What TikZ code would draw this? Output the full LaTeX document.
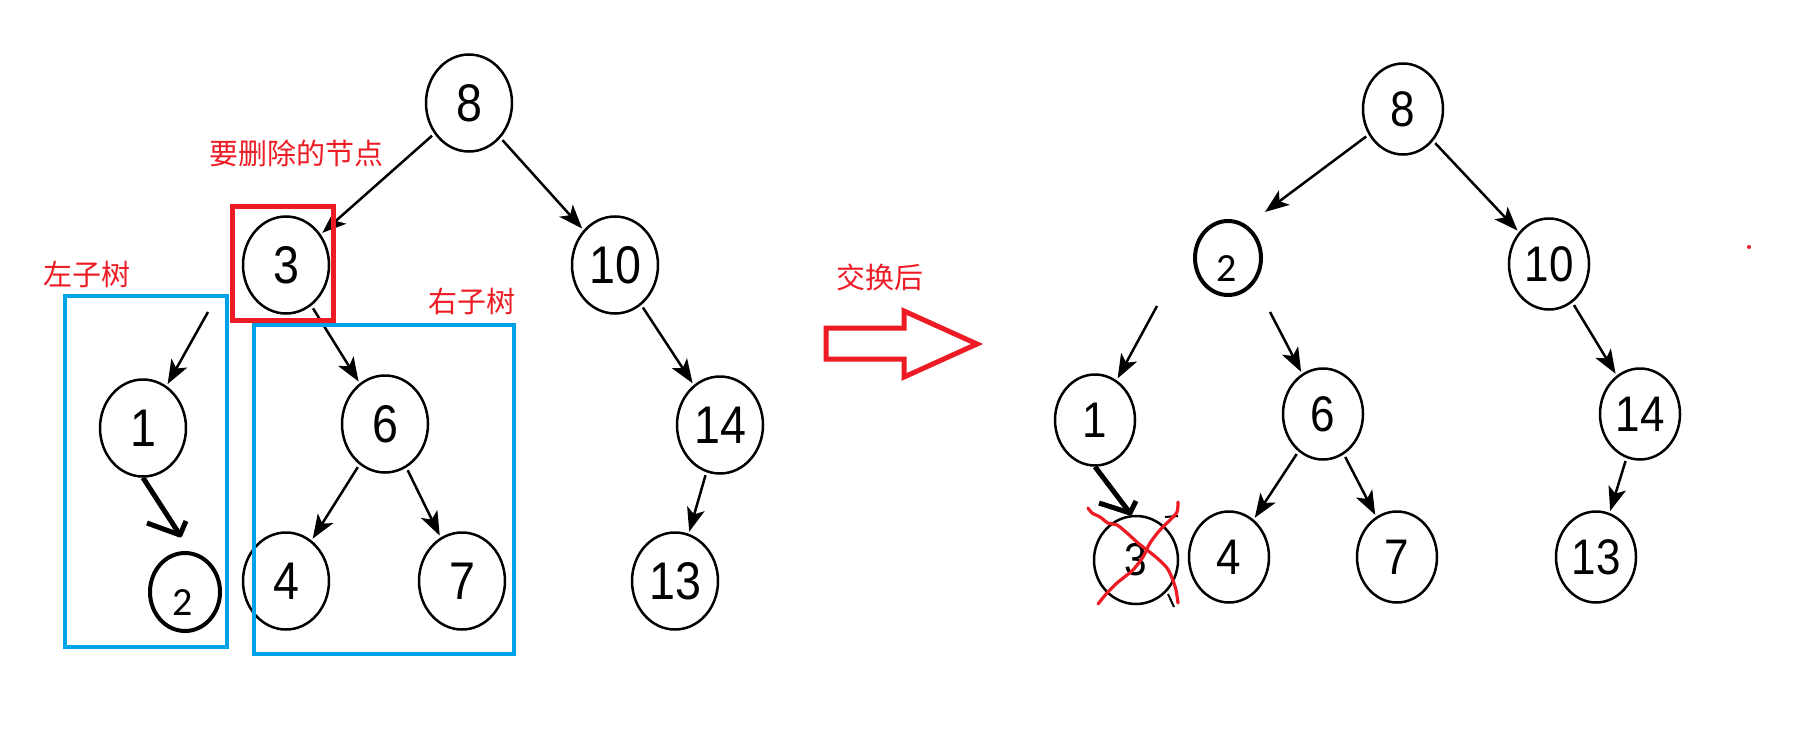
\documentclass[tikz,border=0pt]{standalone}
\usepackage{fontspec}
\usetikzlibrary{shapes.geometric,arrows.meta}
\newfontfamily\numfont[FakeStretch=0.88]{Liberation Sans}
\newfontfamily\smallfont{Carlito}
\newfontfamily\cjk{Noto Sans CJK SC}
\definecolor{pred}{HTML}{ED1C24}
\definecolor{pblue}{HTML}{00A2E8}
\begin{document}
\begin{tikzpicture}[x=1pt,y=-1pt,
 tn/.style={ellipse,draw,line width=2.5pt,inner sep=0pt,minimum width=86pt,minimum height=97pt,font=\numfont\fontsize{53}{53}\selectfont},
 tnr/.style={tn,minimum width=80pt,minimum height=91pt,font=\numfont\fontsize{50}{50}\selectfont},
 sn/.style={ellipse,draw,line width=4pt,inner sep=0pt},
 stxt/.style={inner sep=0pt,font=\smallfont\fontsize{40}{40}\selectfont},
 edge/.style={line width=2.5pt,-{Stealth[length=24pt,width=18pt,inset=6pt]},shorten <=3pt,shorten >=2pt},
 hand/.style={line width=5pt},
 lbl/.style={text=pred,font=\cjk\fontsize{29}{29}\selectfont,inner sep=0pt},
 bbox/.style={draw=pblue,line width=4.5pt},
 rbox/.style={draw=pred,line width=5pt},
 xmark/.style={draw=pred,line width=3.2pt,line cap=round,line join=round},
]
\useasboundingbox[fill=white] (0,0) rectangle (1793,741);

% ---------- left tree ----------
\node[tn] (L8) at (469,103) {8};
\node[tn] (L3) at (286,265) {3};
\node[tn] (L10) at (615,265) {10};
\node[tn] (L1) at (143,428) {1};
\node[tn] (L6) at (385,424) {6};
\node[tn] (L14) at (720,425) {14};
\node[tn] (L4) at (286,581) {4};
\node[tn] (L7) at (462,581) {7};
\node[tn] (L13) at (675,581) {13};
\node[sn,minimum width=70pt,minimum height=78pt] (Ls2) at (185,592) {};
\node[stxt] (Ls2t) at (183,603) {2};
\coordinate (Lsrc) at (208,312);
\coordinate (Ltip) at (180,535);

\draw[edge] (L8) -- (L3);
\draw[edge] (L8) -- (L10);
\draw[edge,shorten <=0pt] (Lsrc) -- (L1);
\draw[edge] (L3) -- (L6);
\draw[edge] (L10) -- (L14);
\draw[edge] (L6) -- (L4);
\draw[edge] (L6) -- (L7);
\draw[edge] (L14) -- (L13);
\draw[hand] (L1.south) -- (Ltip);
\draw[hand,line join=round] ([shift={(-33,-12)}]Ltip) -- (Ltip) -- ([shift={(6,-14)}]Ltip);

\draw[rbox] (232,206) rectangle (333,320);
\draw[bbox] (65,296) rectangle (227,647);
\draw[bbox] (254,325) rectangle (514,654);

\node[lbl] (tdel) at (296,153) {要删除的节点};
\node[lbl] (tleft) at (87,274) {左子树};
\node[lbl] (tright) at (472,301) {右子树};

% ---------- middle arrow ----------
\node[lbl] (tswap) at (880,277) {交换后};
\draw[draw=pred,line width=5pt,line join=miter] (826,328) -- (904,328) -- (904,311) -- (977,344) -- (904,377) -- (904,359) -- (826,359) -- cycle;

% ---------- right tree ----------
\node[tnr] (R8) at (1403,109) {8};
\node[sn,minimum width=66pt,minimum height=74pt] (R2) at (1228,258) {};
\node[stxt] (R2t) at (1227,269) {2};
\node[tnr] (R10) at (1549,264) {10};
\node[tnr] (R1) at (1095,420) {1};
\node[tnr] (R6) at (1323,414) {6};
\node[tnr] (R14) at (1640,414) {14};
\node[tnr,minimum width=84pt,minimum height=88pt,font=\numfont\fontsize{46}{46}\selectfont] (R3) at (1136,560) {3};
\node[tnr] (R4) at (1229,557) {4};
\node[tnr] (R7) at (1397,557) {7};
\node[tnr] (R13) at (1596,557) {13};
\coordinate (R2in) at (1265,212);
\coordinate (R2a) at (1157,306);
\coordinate (R2b) at (1270,312);
\coordinate (Rtip) at (1130,513);

\draw[edge,shorten >=0pt] (R8) -- (R2in);
\draw[edge] (R8) -- (R10);
\draw[edge,shorten <=0pt] (R2a) -- (R1);
\draw[edge,shorten <=0pt] (R2b) -- (R6);
\draw[edge] (R10) -- (R14);
\draw[edge] (R6) -- (R4);
\draw[edge] (R6) -- (R7);
\draw[edge] (R14) -- (R13);
\draw[hand] (R1.south) -- (Rtip);
\draw[hand,line join=round] ([shift={(-31,-10)}]Rtip) -- (Rtip) -- ([shift={(6,-12)}]Rtip);
\draw[line width=2pt] (1165,517) -- (1178,516);
\draw[line width=2pt] (1168,594) -- (1174,607);

\draw[xmark] plot[smooth] coordinates {(1088,508) (1092,513) (1100,517) (1108,523) (1117,525) (1127,533) (1138,543) (1147,550) (1157,558) (1167,568) (1172,578) (1176,590) (1178,603)};
\draw[xmark] plot[smooth] coordinates {(1178,502) (1177,512) (1170,520) (1160,530) (1150,543) (1143,557) (1133,570) (1127,575) (1117,583) (1107,593) (1098,604)};

\fill[pred] (1749,247) circle (2);
\end{tikzpicture}
\end{document}
